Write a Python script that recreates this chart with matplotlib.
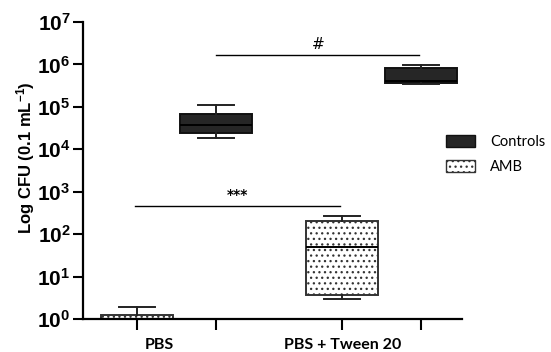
import matplotlib
matplotlib.use("Agg")
import matplotlib.pyplot as plt
import matplotlib.transforms as mtransforms
from matplotlib.patches import Patch
from matplotlib.ticker import FixedLocator, NullFormatter, FixedFormatter

plt.rcParams['mathtext.fontset'] = 'custom'
plt.rcParams['mathtext.rm'] = 'Liberation Sans:bold'
plt.rcParams['mathtext.bf'] = 'Liberation Sans:bold'
plt.rcParams['mathtext.it'] = 'Liberation Sans:bold'
plt.rcParams['hatch.linewidth'] = 0.9

# ---- data ----
groups = ["PBS", "PBS + Tween 20"]
series = ["Controls", "AMB"]
# box statistics (CFU per 0.1 mL)
amb_whislo = [1.0, 2.96]
amb_q1 = [1.0, 3.7]
amb_med = [1.0, 51]
amb_q3 = [1.24, 207]
amb_whishi = [1.95, 268]

ctrl_whislo = [1.87e4, 3.5e5]
ctrl_q1 = [2.46e4, 3.6e5]
ctrl_med = [3.7e4, 4.1e5]
ctrl_q3 = [6.8e4, 8.1e5]
ctrl_whishi = [1.1e5, 9.7e5]

ytick_values = [1e0, 1e1, 1e2, 1e3, 1e4, 1e5, 1e6, 1e7]
ytick_labels = [r'$10^{0}$', r'$10^{1}$', r'$10^{2}$', r'$10^{3}$',
                r'$10^{4}$', r'$10^{5}$', r'$10^{6}$', r'$10^{7}$']
sig_labels = ["#", "***"]

# ---- layout positions ----
amb_pos = [1.0, 3.6]
ctrl_pos = [2.0, 4.6]
label_pos = [1.278, 3.6]
box_w = 0.91

fig = plt.figure(figsize=(5.51, 3.52), dpi=100)
ax = fig.add_axes([83/551, 33/352, (462-83)/551, (319-22)/352])

def stats(lo, q1, med, q3, hi):
    return [dict(whislo=a, q1=b, med=c, q3=d, whishi=e, fliers=[])
            for a, b, c, d, e in zip(lo, q1, med, q3, hi)]

ctrl_stats = stats(ctrl_whislo, ctrl_q1, ctrl_med, ctrl_q3, ctrl_whishi)
amb_stats = stats(amb_whislo, amb_q1, amb_med, amb_q3, amb_whishi)

lw = 1.4
common = dict(widths=box_w, patch_artist=True, showfliers=False,
              whiskerprops=dict(color='#222222', lw=lw),
              capprops=dict(color='#222222', lw=lw),
              medianprops=dict(color='black', lw=lw))
b1 = ax.bxp(ctrl_stats, positions=ctrl_pos,
            boxprops=dict(facecolor='#262626', edgecolor='#111111', lw=lw),
            capwidths=box_w/2, **common)
b2 = ax.bxp(amb_stats, positions=amb_pos,
            boxprops=dict(facecolor='white', edgecolor='#333333', lw=lw, hatch='...'),
            capwidths=box_w/2, **common)

ax.set_yscale('log')
ax.set_ylim(1, 1e7)
ax.set_xlim(0.316, 0.316 + (462-83)/79)
ax.yaxis.set_major_locator(FixedLocator(ytick_values))
ax.yaxis.set_major_formatter(FixedFormatter(ytick_labels))
ax.yaxis.set_minor_locator(FixedLocator([]))
ax.tick_params(axis='y', which='major', length=7, width=1.5, labelsize=15, pad=2)

ax.xaxis.set_major_locator(FixedLocator(amb_pos + ctrl_pos))
ax.xaxis.set_major_formatter(NullFormatter())
ax.xaxis.set_minor_locator(FixedLocator([]))
ax.tick_params(axis='x', which='major', length=8, width=1.5)

trans = mtransforms.blended_transform_factory(ax.transData, fig.transFigure)
for xp, g in zip(label_pos, groups):
    ax.text(xp, 1 - 345/352, g, transform=trans, ha='center', va='center',
            family='Lato', fontweight='bold', fontsize=11.5)

for s in ['top', 'right']:
    ax.spines[s].set_visible(False)
for s in ['left', 'bottom']:
    ax.spines[s].set_linewidth(1.6)

# significance bars
ax.plot([ctrl_pos[0], 4.57], [1.67e6, 1.67e6], color='black', lw=1.0)
ax.text(3.3, 2.0e6, sig_labels[0], ha='center', va='bottom', fontsize=11,
        family='DejaVu Sans')
ax.plot([0.975, 3.57], [460, 460], color='black', lw=1.0)
ax.text(2.27, 560, sig_labels[1], ha='center', va='bottom', fontsize=10,
        family='DejaVu Sans', fontweight='bold')

fig.text(26/551, 1 - 158/352, r'Log CFU (0.1 mL$^{-1}$)', rotation=90,
         ha='center', va='center', fontsize=12, family='Liberation Sans',
         fontweight='bold')

handles = [Patch(facecolor='#262626', edgecolor='#111111', lw=1.0),
           Patch(facecolor='white', edgecolor='#333333', lw=1.0, hatch='...')]
fig.legend(handles, series, loc='upper left',
           bbox_to_anchor=(433/551, 1 - 122/352), frameon=False,
           prop=dict(family='Lato', size=10.5), handlelength=2.0,
           handleheight=0.8, labelspacing=0.75, handletextpad=1.0)

fig.savefig('out.png', dpi=100)
